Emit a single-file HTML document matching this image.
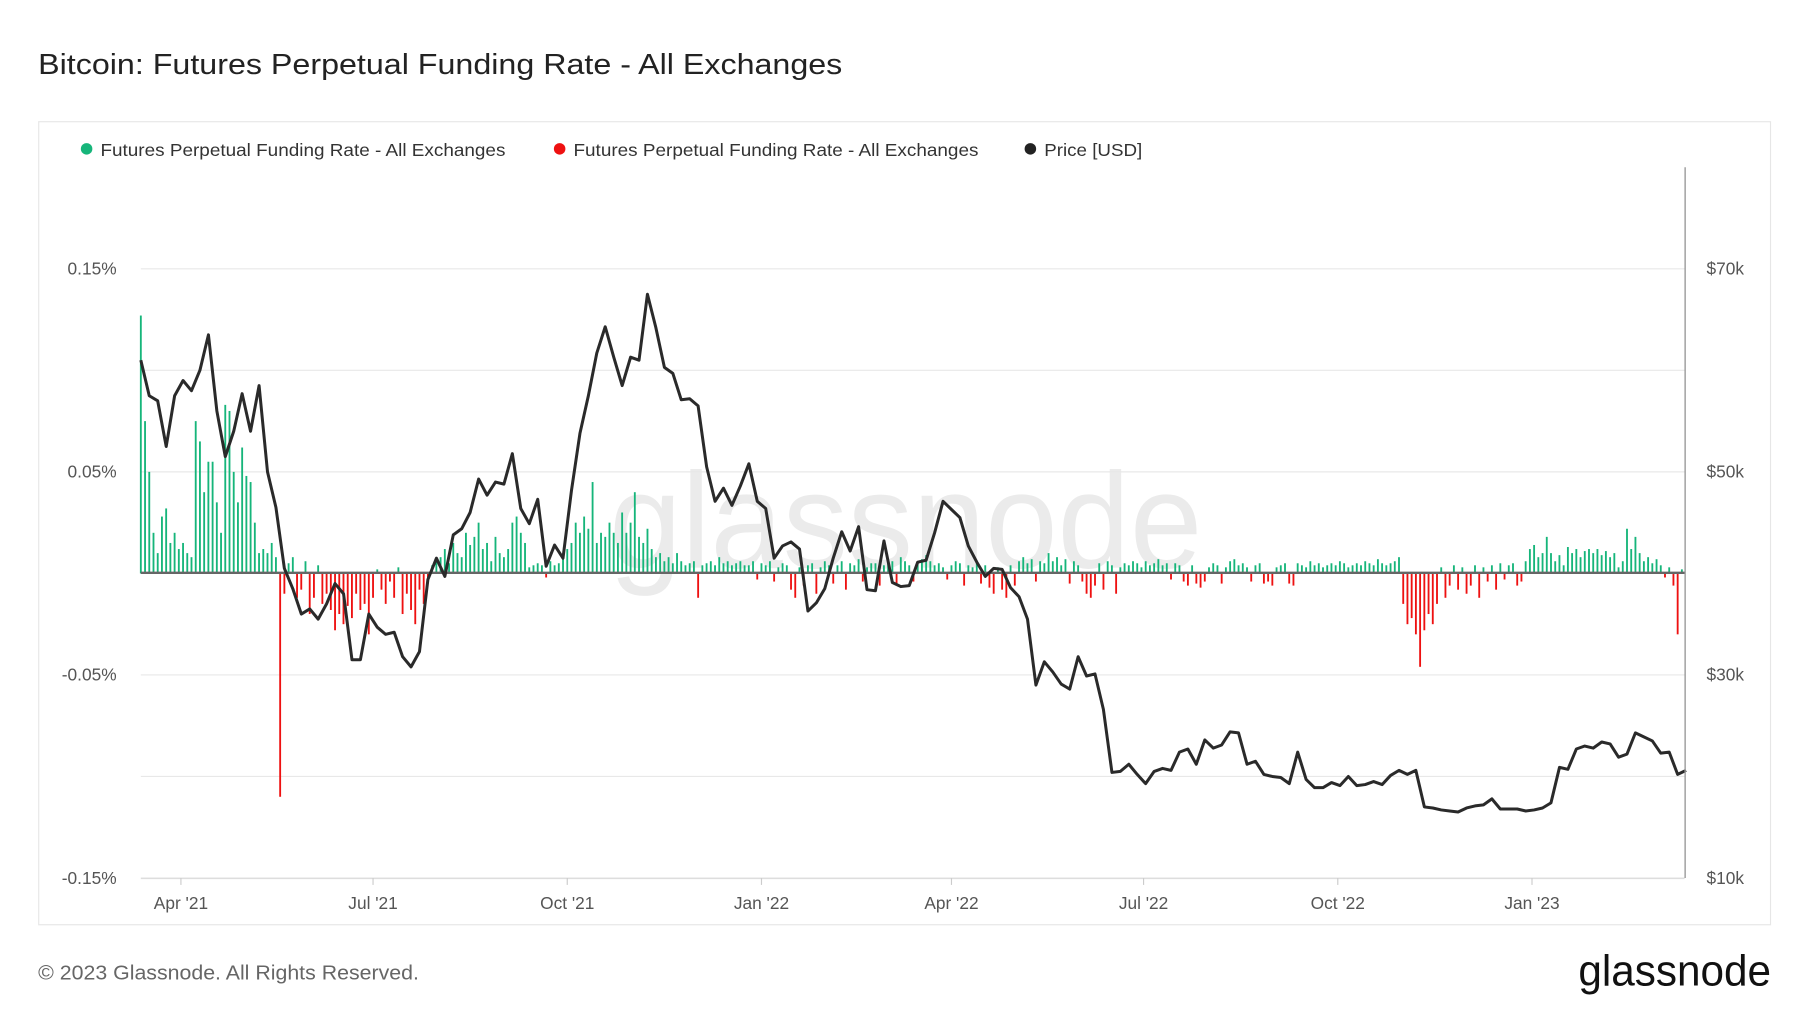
<!DOCTYPE html>
<html><head><meta charset="utf-8"><style>
html,body{margin:0;padding:0;background:#fff;}
svg{display:block;font-family:"Liberation Sans",sans-serif;}
</style></head>
<body>
<svg id="chart" width="1800" height="1013" viewBox="0 0 1560 878" xmlns="http://www.w3.org/2000/svg">
<rect width="1560" height="878" fill="#fff"/>
<text x="33" y="64" font-size="25" fill="#222" textLength="697" lengthAdjust="spacingAndGlyphs">Bitcoin: Futures Perpetual Funding Rate - All Exchanges</text>
<rect x="33.5" y="105.5" width="1501" height="696" fill="none" stroke="#e6e6e6"/>
<g font-size="15.5" fill="#333">
<g><circle cx="75" cy="129" r="5" fill="#16b57a"/><text x="87" y="135" textLength="351" lengthAdjust="spacingAndGlyphs">Futures Perpetual Funding Rate - All Exchanges</text></g>
<g><circle cx="485" cy="129" r="5" fill="#ee1111"/><text x="497" y="135" textLength="351" lengthAdjust="spacingAndGlyphs">Futures Perpetual Funding Rate - All Exchanges</text></g>
<g><circle cx="893" cy="129" r="5" fill="#222"/><text x="905" y="135" textLength="85" lengthAdjust="spacingAndGlyphs">Price [USD]</text></g>
</g>
<text x="528" y="492" font-size="118" fill="#ebebeb" textLength="514" lengthAdjust="spacingAndGlyphs">glassnode</text>
<g id="grid"></g>
<g id="bars"></g>
<line x1="122" x2="1460" y1="496.5" y2="496.5" stroke="#666" stroke-width="2"/>
<path id="price" fill="none" stroke="#2a2a2a" stroke-width="2.6" stroke-linejoin="round"/>
<line x1="1460.5" x2="1460.5" y1="145" y2="761" stroke="#999" stroke-width="1.2"/>
<line x1="122" x2="1460" y1="761.5" y2="761.5" stroke="#ddd"/>
<g id="axes" font-size="15" fill="#555"></g>
<text x="33" y="849" font-size="18" fill="#666" textLength="330" lengthAdjust="spacingAndGlyphs">© 2023 Glassnode. All Rights Reserved.</text>
<text x="1368" y="854" font-size="38" fill="#111" textLength="167" lengthAdjust="spacingAndGlyphs">glassnode</text>
</svg>
<script>
const leftTicks = [0.15, 0.05, -0.05, -0.15];
const leftTickLabels = ["0.15%", "0.05%", "-0.05%", "-0.15%"];
const gridValues = [0.15, 0.10, 0.05, -0.05, -0.10, -0.15];
const rightTicks = [70000, 50000, 30000, 10000];
const rightTickLabels = ["$70k", "$50k", "$30k", "$10k"];
const xTickDays = [19, 110, 202, 294, 384, 475, 567, 659];
const xTickLabels = ["Apr '21", "Jul '21", "Oct '21", "Jan '22", "Apr '22", "Jul '22", "Oct '22", "Jan '23"];
const fundingStepDays = 2;
const priceStepDays = 4;
const funding = [0.127,0.075,0.05,0.02,0.01,0.028,0.032,0.015,0.02,0.012,0.015,0.01,0.008,0.075,0.065,0.04,0.055,0.055,0.035,0.02,0.083,0.08,0.05,0.035,0.062,0.048,0.045,0.025,0.01,0.012,0.01,0.015,0.008,
-0.11,-0.01,
0.005,0.008,-0.012,-0.008,0.006,-0.02,-0.012,0.004,-0.015,-0.01,-0.018,-0.028,-0.02,-0.025,-0.016,-0.022,-0.01,-0.018,-0.015,-0.03,-0.012,0.002,-0.008,-0.015,-0.004,-0.012,0.003,-0.02,-0.01,-0.018,-0.025,-0.008,-0.015,-0.005,0.004,
0.006,0.008,0.012,0.005,0.015,0.01,0.008,0.02,0.014,0.018,0.025,0.012,0.015,0.006,0.018,0.01,0.008,0.012,0.025,0.028,0.02,0.015,0.003,0.004,0.005,0.004,-0.002,0.006,0.004,0.005,
0.008,0.012,0.015,0.025,0.02,0.028,0.022,0.045,0.015,0.02,0.018,0.025,0.02,0.015,0.03,0.02,0.025,0.04,0.018,0.015,0.022,0.012,0.008,0.01,0.006,0.008,0.005,0.01,0.006,0.004,0.005,0.006,-0.012,0.004,0.005,0.006,0.004,0.008,0.005,0.006,0.004,0.005,0.006,0.004,
0.004,0.006,-0.003,0.005,0.004,0.006,-0.004,0.003,0.005,0.004,
-0.008,-0.012,0.003,-0.006,0.004,0.005,-0.01,0.003,0.006,0.004,
-0.005,0.004,0.006,-0.008,0.005,0.004,0.007,-0.004,0.003,0.005,
0.005,-0.006,0.004,0.007,0.006,-0.005,0.008,0.006,0.004,-0.004,
0.005,0.007,0.009,0.006,0.004,0.005,0.003,-0.003,0.004,0.006,
0.005,-0.006,0.004,0.003,0.006,-0.005,0.004,-0.007,-0.01,0.003,
-0.008,-0.012,0.004,-0.006,0.006,0.008,0.005,0.007,-0.004,0.006,
0.005,0.01,0.006,0.008,0.004,0.007,-0.005,0.006,0.004,-0.004,
-0.01,-0.012,-0.006,0.005,-0.008,0.006,0.004,-0.01,0.003,0.005,
0.004,0.006,0.005,0.003,0.006,0.004,0.005,0.007,0.004,0.005,
-0.003,0.005,0.004,-0.004,-0.006,0.004,-0.005,-0.007,-0.004,0.003,
0.005,0.004,-0.005,0.003,0.006,0.007,0.004,0.005,0.003,-0.004,
0.004,0.005,-0.005,-0.004,-0.006,0.003,0.004,0.005,-0.005,-0.006,
0.005,0.004,0.003,0.006,0.004,0.005,0.003,0.004,0.005,0.004,
0.006,0.005,0.003,0.004,0.005,0.004,0.006,0.005,0.004,0.007,
0.005,0.004,0.005,0.006,0.008,-0.015,-0.025,-0.022,-0.03,-0.046,
-0.028,-0.02,-0.025,-0.015,0.003,-0.012,-0.006,0.004,-0.008,0.003,
-0.01,-0.006,0.004,-0.012,0.003,-0.004,0.004,-0.008,0.005,-0.003,
0.004,0.005,-0.006,-0.004,0.006,0.012,0.014,0.008,0.01,0.018,
0.01,0.006,0.009,0.004,0.013,0.01,0.012,0.008,0.011,0.012,
0.01,0.012,0.009,0.011,0.008,0.01,0.003,0.006,0.022,0.012,
0.018,0.01,0.006,0.008,0.005,0.007,0.004,-0.002,0.003,-0.006,
-0.03,0.002];
const price = [61,57.5,57,52.5,57.5,59,58,60,63.5,56,51.5,54,57.7,54,58.5,50,46.5,40.5,38.5,36,36.5,35.5,37,39,38,31.5,31.5,36,34.7,34,34.2,31.8,30.8,32.3,39.4,41.5,39.7,43.8,44.4,46,49.3,47.7,49,48.8,51.8,46.4,44.9,47.3,40.7,42.8,41.5,48.2,53.8,57.5,61.7,64.3,61.3,58.5,61.3,61,67.5,64.2,60.3,59.7,57.1,57.2,56.5,50.5,47.1,48.4,46.7,48.6,50.8,47.1,
46.4,41.5,42.7,43.1,42.4,36.3,37.1,38.5,41.5,44.1,42.2,44.6,38.4,38.3,43.2,39.1,38.7,38.8,41.1,41.3,44,47.1,46.3,45.5,42.7,41.1,39.7,40.5,40.4,38.6,37.7,35.5,29,31.3,30.3,29.1,28.6,31.8,29.9,30.1,26.6,20.4,20.5,21.2,20.2,19.3,20.5,20.8,20.6,22.4,22.7,21.2,23.6,22.8,23.1,24.4,24.3,21.2,21.5,20.2,20,19.9,19.3,22.4,19.7,18.9,18.9,19.4,19.1,20,19.1,19.2,19.5,19.2,20.1,20.6,20.2,20.6,17,16.9,16.7,16.6,16.5,16.9,17.1,17.2,17.8,16.8,16.8,16.8,16.6,
16.7,16.9,17.4,20.9,20.7,22.7,23,22.8,23.4,23.2,21.9,22.2,24.3,23.9,23.5,22.3,22.4,20.2,20.6];

const X0 = 122, PX_PER_DAY = 1.8297;
const xScale = d => X0 + d * PX_PER_DAY;
const yLeft = v => 497 - v * 1760;
const yRight = p => 761 - (p - 10000) / 20000 * 176;
const NS = "http://www.w3.org/2000/svg";
function mk(tag, attrs, parent) {
  const e = document.createElementNS(NS, tag);
  for (const k in attrs) e.setAttribute(k, attrs[k]);
  parent.appendChild(e);
  return e;
}
const grid = document.getElementById('grid');
gridValues.forEach(v => {
  const l = mk('line', {x1: 122, x2: 1460, y1: yLeft(v), y2: yLeft(v), stroke: '#e8e8e8', 'stroke-width': 1}, grid);
  
  
});
const axes = document.getElementById('axes');
leftTicks.forEach((v, i) => {
  const t = mk('text', {x: 101, y: yLeft(v) + 5, 'text-anchor': 'end'}, axes);
  t.textContent = leftTickLabels[i];
  
  
});
rightTicks.forEach((v, i) => {
  const t = mk('text', {x: 1479, y: yRight(v) + 5}, axes);
  t.textContent = rightTickLabels[i];
  
  
});
xTickDays.forEach((d, i) => {
  const x = xScale(d);
  const tk = mk('line', {x1: x, x2: x, y1: 761, y2: 767, stroke: '#ccc'}, axes);
  
  
  const t = mk('text', {x: x, y: 788, 'text-anchor': 'middle'}, axes);
  t.textContent = xTickLabels[i];
  
  
});
const bars = document.getElementById('bars');
funding.forEach((v, i) => {
  const x = xScale(i * fundingStepDays);
  const y0 = yLeft(0), y1 = yLeft(v);
  const r = mk('rect', {x: x - 0.8, y: Math.min(y0, y1), width: 1.6, height: Math.max(0.5, Math.abs(y1 - y0)), fill: v >= 0 ? '#16b57a' : '#ee1111'}, bars);
  
  
});
let d = '';
price.forEach((p, i) => {
  d += (i ? 'L' : 'M') + xScale(i * priceStepDays).toFixed(1) + ',' + yRight(p * 1000).toFixed(1);
});
document.getElementById('price').setAttribute('d', d);
</script>
</body></html>
